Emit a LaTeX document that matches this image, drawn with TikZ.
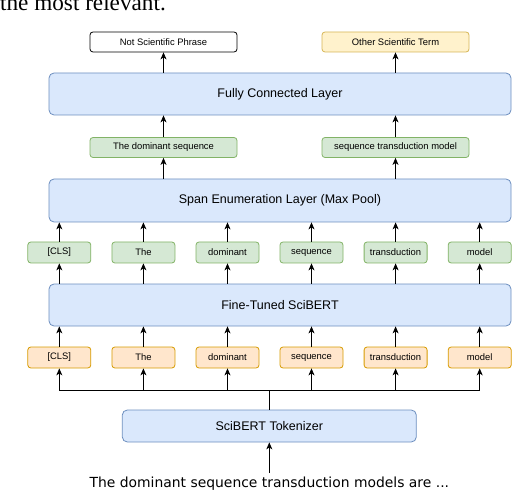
\documentclass[tikz,border=0pt]{standalone}
\usepackage{fontspec}
\setmainfont{Liberation Sans}
\newfontfamily\headserif{Liberation Serif}
\newfontfamily\sentsans{DejaVu Sans}
\usepackage{tikz}
\usetikzlibrary{arrows.meta}
\definecolor{bluefill}{HTML}{DAE8FC}
\definecolor{blueline}{HTML}{6C8EBF}
\definecolor{greenfill}{HTML}{D5E8D4}
\definecolor{greenline}{HTML}{82B366}
\definecolor{orangefill}{HTML}{FFE6CC}
\definecolor{orangeline}{HTML}{D79B00}
\definecolor{yellowfill}{HTML}{FFF2CC}
\definecolor{yellowline}{HTML}{D6B656}
\tikzset{
  arr/.style={-{Stealth[length=7pt,width=6pt,inset=2pt]}, line width=0.8pt},
  layer/.style={draw=blueline, fill=bluefill, rounded corners=5pt, line width=0.8pt, minimum width=462pt, minimum height=42pt, inner sep=0pt, font=\fontsize{12.5}{14}\selectfont},
  label/.style={rounded corners=3pt, line width=0.8pt, minimum width=147pt, minimum height=20pt, inner sep=0pt, font=\fontsize{9.4}{11}\selectfont},
  tokg/.style={draw=greenline, fill=greenfill, rounded corners=3pt, line width=0.8pt, minimum width=63pt, minimum height=21pt, inner sep=0pt, font=\fontsize{9.4}{11}\selectfont},
  toko/.style={tokg, draw=orangeline, fill=orangefill}
}
\newcommand{\uparr}[2]{\draw[arr] (#1) -- (#2);}

\begin{document}
\begin{tikzpicture}[x=1pt,y=-1pt]
\useasboundingbox (0,0) rectangle (512,492);
\node[anchor=base west, inner sep=0pt, font=\headserif\fontsize{23.2}{24}\selectfont] (head) at (0,11) {the most relevant.};
% outputs
\node[label, draw=black, fill=white] (nsp) at (163.5,42) {Not Scientific Phrase};
\node[label, draw=yellowline, fill=yellowfill] (ost) at (395.5,42) {Other Scientific Term};
\node[layer] (fc) at (280,94) {Fully Connected Layer};
% spans
\node[label, draw=greenline, fill=greenfill] (sp1) at (163.5,147.5) {The dominant sequence};
\node[label, draw=greenline, fill=greenfill] (sp2) at (395.5,147.5) {sequence transduction model};
\node[layer, minimum height=43pt] (span) at (280,200.5) {Span Enumeration Layer (Max Pool)};
% embeddings
\node[tokg] (g1) at (59.3,252.5) {[CLS]};
\node[tokg] (g2) at (143.4,252.5) {The};
\node[tokg] (g3) at (227.5,252.5) {dominant};
\node[tokg] (g4) at (311.5,252.5) {sequence};
\node[tokg] (g5) at (395.6,252.5) {transduction};
\node[tokg] (g6) at (479.7,252.5) {model};
\node[layer] (bert) at (280,305) {Fine-Tuned SciBERT};
% tokens
\node[toko] (o1) at (59.3,357.5) {[CLS]};
\node[toko] (o2) at (143.4,357.5) {The};
\node[toko] (o3) at (227.5,357.5) {dominant};
\node[toko] (o4) at (311.5,357.5) {sequence};
\node[toko] (o5) at (395.6,357.5) {transduction};
\node[toko] (o6) at (479.7,357.5) {model};
\coordinate (bus) at (269.3,390);
\node[layer, minimum width=294pt, minimum height=32pt] (tok) at (269.3,426) {SciBERT Tokenizer};
\node[anchor=base, inner sep=3pt, font=\sentsans\fontsize{13.9}{15}\selectfont] (sent) at (269.3,487) {The dominant sequence transduction models are ...};
% connectors
\uparr{sent.north}{tok.south}
\draw[line width=0.8pt] (tok.north) -- (bus);
\draw[line width=0.8pt] (bus -| o1) -- (bus -| o6);
\uparr{bus -| o1}{o1.south}
\uparr{bus -| o2}{o2.south}
\uparr{bus -| o3}{o3.south}
\uparr{bus -| o4}{o4.south}
\uparr{bus -| o5}{o5.south}
\uparr{bus -| o6}{o6.south}
\uparr{o1.north}{bert.south -| o1}
\uparr{o2.north}{bert.south -| o2}
\uparr{o3.north}{bert.south -| o3}
\uparr{o4.north}{bert.south -| o4}
\uparr{o5.north}{bert.south -| o5}
\uparr{o6.north}{bert.south -| o6}
\uparr{bert.north -| g1}{g1.south}
\uparr{bert.north -| g2}{g2.south}
\uparr{bert.north -| g3}{g3.south}
\uparr{bert.north -| g4}{g4.south}
\uparr{bert.north -| g5}{g5.south}
\uparr{bert.north -| g6}{g6.south}
\uparr{g1.north}{span.south -| g1}
\uparr{g2.north}{span.south -| g2}
\uparr{g3.north}{span.south -| g3}
\uparr{g4.north}{span.south -| g4}
\uparr{g5.north}{span.south -| g5}
\uparr{g6.north}{span.south -| g6}
\uparr{span.north -| sp1}{sp1.south}
\uparr{span.north -| sp2}{sp2.south}
\uparr{sp1.north}{fc.south -| sp1}
\uparr{sp2.north}{fc.south -| sp2}
\uparr{fc.north -| nsp}{nsp.south}
\uparr{fc.north -| ost}{ost.south}
\end{tikzpicture}
\end{document}
